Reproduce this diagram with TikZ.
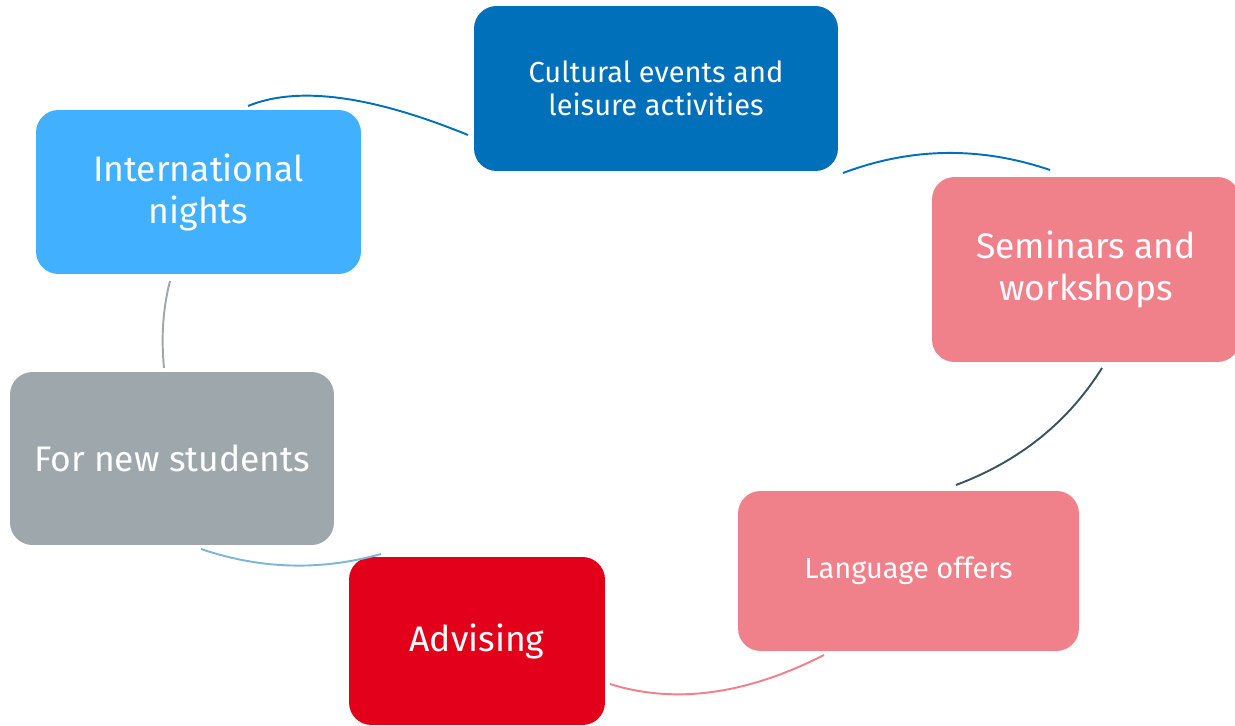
\documentclass[tikz,border=0pt]{standalone}
\usepackage{fontspec}
\setmainfont{Fira Sans}
\usepackage{xcolor}
\usepackage{tikz}
\usetikzlibrary{shapes,positioning}
\definecolor{uniblue}{HTML}{0070BA}
\definecolor{unipink}{HTML}{F0808A}
\definecolor{unired}{HTML}{E2001A}
\definecolor{unigray}{HTML}{9EA8AC}
\definecolor{unisky}{HTML}{40B0FF}
\definecolor{unislate}{HTML}{3A5360}
\definecolor{unilight}{HTML}{7DB5DD}
\tikzset{box/.style={rectangle,rounded corners=0.45cm,text=white,align=center,inner sep=0pt},
  big/.style={font=\fontsize{20.2}{23.9}\selectfont},
  small/.style={font=\fontsize{16.5}{18.8}\selectfont},
  arc/.style={line width=1.1pt}}

\begin{document}
\begin{tikzpicture}[x=0.02cm,y=-0.02cm]
        \useasboundingbox (0,0) rectangle (1235,726);
        \node[box,small,fill=uniblue,minimum width=7.28cm,minimum height=3.3cm] (cult)at (656,88.5) {Cultural events and\\leisure activities};
        \node[box,big,fill=unipink,minimum width=6.16cm,minimum height=3.7cm] (sem)at (1086,269.5) {Seminars and\\workshops};
        \node[box,small,fill=unipink,minimum width=6.82cm,minimum height=3.2cm] (lang)at (908.5,571) {Language offers};
        \node[box,big,fill=unired,minimum width=5.12cm,minimum height=3.36cm] (adv)at (477,641) {Advising};
        \node[box,big,fill=unigray,minimum width=6.48cm,minimum height=3.46cm] (new)at (172,458.5) {For new students};
        \node[box,big,fill=unisky,minimum width=6.5cm,minimum height=3.28cm] (intl)at (198.5,192) {International\\nights};

        \coordinate (a1) at (248,106);  \coordinate (b1) at (468,135);
        \coordinate (a2) at (843,173);  \coordinate (b2) at (1050,170);
        \coordinate (a3) at (1102,368); \coordinate (b3) at (956,485);
        \coordinate (a4) at (824,655);  \coordinate (b4) at (610,684);
        \coordinate (a5) at (381,554);  \coordinate (b5) at (201,549);
        \coordinate (a6) at (164,368);  \coordinate (b6) at (170,281);

        \draw [arc,uniblue] (a1) .. controls (297.3,85.7) and (370.7,95.3) .. (b1);
        \draw [arc,uniblue] (a2) .. controls (911.3,147.3) and (980.3,146.3) .. (b2);
        \draw [arc,unislate] (a3) .. controls (1068,422.3) and (1019.3,461.3) .. (b3);
        \draw [arc,unipink] (a4) .. controls (746,694.7) and (674.7,704.3) .. (b4);
        \draw [arc,unilight] (a5) .. controls (320.7,571) and (260.7,569.3) .. (b5);
        \draw [arc,unigray] (a6) .. controls (161,337) and (163,308) .. (b6);
    \end{tikzpicture}
\end{document}
